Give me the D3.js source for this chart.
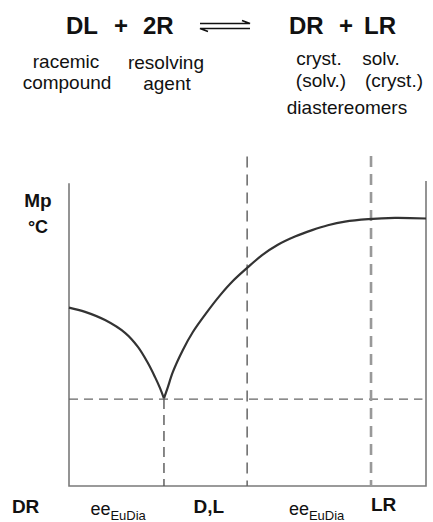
<!DOCTYPE html>
<html>
<head>
<meta charset="utf-8">
<script src="https://cdn.jsdelivr.net/npm/d3@7"></script>
<style>
  html, body { margin: 0; padding: 0; background: #fff; }
  svg { display: block; }
  text { font-family: "Liberation Sans", Arial, sans-serif; fill: #111; }
  .bold { font-weight: bold; }
</style>
</head>
<body>
<div id="chart"></div>
<script>
const width = 433, height = 522;

// melting point curve, left branch (DR side) down to the eutectic
const leftX = [0, 4.5, 10.1, 15.7, 19.3, 22.1, 24.1, 25.5, 26.6];
const leftY = [58.5, 57.1, 54.4, 50.2, 45.6, 40.3, 35.7, 32.1, 28.7];
// right branch from the eutectic up to LR
const rightX = [26.6, 27.6, 29.1, 31.9, 34.7, 38.7, 42.3, 45.9, 49.9, 54.1, 58.5, 63.3, 68.1, 72.5, 77.3, 83.8, 91.3, 100];
const rightY = [28.7, 32.1, 37.4, 44.6, 50.5, 57.1, 62.5, 67.2, 71.5, 75.7, 79.1, 81.8, 83.9, 85.5, 86.7, 87.5, 87.9, 87.7];

// guide lines
const eutecticX = 26.6;
const eutecticY = 28.5;
const racemateX = 49.9;
const lrX = 84.6;

// bottom labels (x in composition units)
const bottomLabels = ['DR', 'D,L', 'LR'];
const bottomLabelX = [-16, 34.9, 84.6];
const eeLabelX = [6, 61.6];

const margin = {left: 69, right: 7, top: 181, bottom: 36};

const x = d3.scaleLinear().domain([0, 100]).range([margin.left, width - margin.right]);
const y = d3.scaleLinear().domain([0, 100]).range([height - margin.bottom, margin.top]);

const svg = d3.select('#chart').append('svg')
  .attr('width', width)
  .attr('height', height);

svg.append('rect').attr('width', width).attr('height', height).attr('fill', '#fff');

// ---- reaction scheme on top
const scheme = svg.append('g');
const eq = [
  ['DL', 66], ['+', 114], ['2R', 143],
  ['DR', 289], ['+', 339], ['LR', 364]
];
scheme.selectAll('.eq').data(eq).enter().append('text')
  .attr('class', 'eq bold')
  .attr('x', d => d[1]).attr('y', 34)
  .style('font-size', '24px')
  .text(d => d[0]);

// equilibrium arrows
const arr = scheme.append('g').attr('stroke', '#111').attr('stroke-width', 1.6).attr('fill', 'none');
arr.append('path').attr('d', 'M200,23.5 H250 L242,20.5');
arr.append('path').attr('d', 'M250,28.5 H200 L208,31.5');

const sub = [
  ['racemic', 66, 68], ['compound', 67, 89],
  ['resolving', 166, 69], ['agent', 167, 90],
  ['cryst.', 319, 65], ['solv.', 381, 65],
  ['(solv.)', 321, 87], ['(cryst.)', 394, 87],
  ['diastereomers', 347, 114]
];
scheme.selectAll('.sub').data(sub).enter().append('text')
  .attr('class', 'sub')
  .attr('x', d => d[1]).attr('y', d => d[2])
  .attr('text-anchor', 'middle')
  .style('font-size', '19px')
  .text(d => d[0]);

// ---- frame (left, bottom, right; no top)
svg.append('path')
  .attr('fill', 'none')
  .attr('stroke', '#7a7a7a')
  .attr('stroke-width', 1.6)
  .attr('d', 'M' + x(0) + ',' + y(99.3) + ' V' + y(0) + ' H' + x(100) + ' V' + y(100));

// ---- dashed guides
svg.append('line')
  .attr('x1', x(0)).attr('x2', x(99)).attr('y1', y(eutecticY)).attr('y2', y(eutecticY))
  .attr('stroke', '#666').attr('stroke-width', 1.4).attr('stroke-dasharray', '9,6');
svg.append('line')
  .attr('x1', x(eutecticX)).attr('x2', x(eutecticX)).attr('y1', y(eutecticY)).attr('y2', y(0))
  .attr('stroke', '#555').attr('stroke-width', 1.4).attr('stroke-dasharray', '10,6');
svg.append('line')
  .attr('x1', x(racemateX)).attr('x2', x(racemateX)).attr('y1', y(108)).attr('y2', y(0))
  .attr('stroke', '#666').attr('stroke-width', 1.5).attr('stroke-dasharray', '11,7');
svg.append('line')
  .attr('x1', x(lrX)).attr('x2', x(lrX)).attr('y1', y(108.2)).attr('y2', y(0))
  .attr('stroke', '#999').attr('stroke-width', 2.6).attr('stroke-dasharray', '11,7');

// ---- melting point curve
const line = d3.line()
  .x(d => x(d[0]))
  .y(d => y(d[1]))
  .curve(d3.curveCatmullRom.alpha(0.5));

svg.append('path')
  .datum(d3.zip(leftX, leftY))
  .attr('fill', 'none').attr('stroke', '#333').attr('stroke-width', 2.2)
  .attr('d', line);
svg.append('path')
  .datum(d3.zip(rightX, rightY))
  .attr('fill', 'none').attr('stroke', '#333').attr('stroke-width', 2.2)
  .attr('d', line);

// ---- axis title
svg.append('text').attr('class', 'bold').attr('x', 38).attr('y', 207)
  .attr('text-anchor', 'middle').style('font-size', '19px').text('Mp');
svg.append('text').attr('class', 'bold').attr('x', 38).attr('y', 233)
  .attr('text-anchor', 'middle').style('font-size', '18px').text('°C');

// ---- bottom labels
svg.selectAll('.blab').data(bottomLabels).enter().append('text')
  .attr('class', 'blab bold')
  .attr('x', (d, i) => x(bottomLabelX[i]))
  .attr('y', (d, i) => i === 2 ? 511 : 513)
  .style('font-size', '19px')
  .text(d => d);

eeLabelX.forEach(v => {
  const t = svg.append('text')
    .attr('x', x(v)).attr('y', 515)
    .style('font-size', '18px');
  t.append('tspan').text('ee');
  t.append('tspan').attr('dy', 5).style('font-size', '13px').text('EuDia');
});
</script>
</body>
</html>
